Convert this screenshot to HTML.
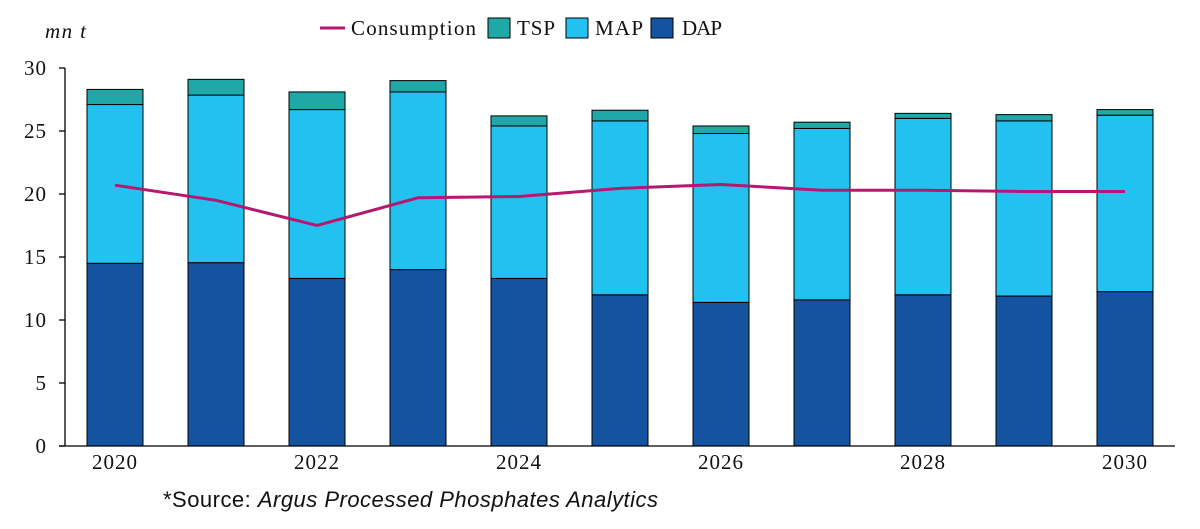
<!DOCTYPE html>
<html><head><meta charset="utf-8"><style>
html,body{margin:0;padding:0;background:#fff;width:1200px;height:529px;overflow:hidden}
svg text{font-family:"Liberation Serif",serif;fill:#111}
</style></head><body>
<svg id="chart" width="1200" height="529" xmlns="http://www.w3.org/2000/svg">
<text x="45" y="38" font-size="21" font-style="italic" textLength="41">mn t</text>
<g>
<line x1="320" y1="28" x2="345" y2="28" stroke="#b5186e" stroke-width="3"/>
<text x="351" y="35" font-size="21" textLength="125">Consumption</text>
<rect x="488" y="18" width="22" height="20" fill="#1fa8a7" stroke="#000" stroke-width="1"/>
<text x="517" y="35" font-size="21" textLength="38">TSP</text>
<rect x="566" y="18" width="22" height="20" fill="#22c1f0" stroke="#000" stroke-width="1"/>
<text x="595" y="35" font-size="21" textLength="48">MAP</text>
<rect x="651" y="18" width="22" height="20" fill="#1453a0" stroke="#000" stroke-width="1"/>
<text x="682" y="35" font-size="21" textLength="40">DAP</text>
</g>
<g id="plot"></g>
<text x="163" y="507" font-size="22" textLength="495" style="font-family:'Liberation Sans',sans-serif">*Source: <tspan font-style="italic">Argus Processed Phosphates Analytics</tspan></text>
</svg>
<script>
const years=[2020,2021,2022,2023,2024,2025,2026,2027,2028,2029,2030];
const dap=[14.5,14.55,13.3,14.0,13.3,12.0,11.4,11.6,12.0,11.9,12.25];
const map=[12.6,13.3,13.4,14.1,12.1,13.8,13.4,13.6,14.0,13.9,14.0];
const tsp=[1.2,1.25,1.4,0.9,0.8,0.85,0.6,0.5,0.4,0.5,0.45];
const consumption=[20.7,19.5,17.5,19.7,19.8,20.45,20.75,20.3,20.3,20.2,20.2];
const yTicks=[0,5,10,15,20,25,30];
const xLabels=[2020,2022,2024,2026,2028,2030];
const NS="http://www.w3.org/2000/svg";
const g=document.getElementById('plot');
const y0=446,y1=68,vmax=30,xl=65,xr=1175;
const yS=v=>y0-(y0-y1)*v/vmax;
const step=101,bw=56;
const xS=yr=>115+(yr-2020)*step;
function mk(t,a){const e=document.createElementNS(NS,t);for(const k in a)e.setAttribute(k,a[k]);g.appendChild(e);return e;}
const cols=['#1453a0','#22c1f0','#1fa8a7'];const names=['dap','map','tsp'];
years.forEach((yr,i)=>{let base=0;[dap[i],map[i],tsp[i]].forEach((v,j)=>{
 const r=mk('rect',{x:xS(yr)-bw/2,y:yS(base+v),width:bw,height:yS(base)-yS(base+v),fill:cols[j],stroke:'#000','stroke-width':1});
 
 
 base+=v;});});
const ax=mk('path',{d:`M${xl} ${y1}V${y0}M${xl-6} ${y0}H${xr}`,stroke:'#000','stroke-width':1.3,fill:'none'});


yTicks.forEach(v=>{
 const t=mk('line',{x1:xl-6,x2:xl,y1:yS(v),y2:yS(v),stroke:'#000','stroke-width':1.3});
 
 
 const l=mk('text',{x:47,y:yS(v)+7,'font-size':21,'text-anchor':'end','letter-spacing':1});l.textContent=v;
 
 });
xLabels.forEach(yr=>{const l=mk('text',{x:xS(yr),y:469,'font-size':21,'text-anchor':'middle','letter-spacing':1});l.textContent=yr;
 
 });
const pl=mk('polyline',{points:years.map((yr,i)=>xS(yr)+','+yS(consumption[i])).join(' '),fill:'none',stroke:'#b5186e','stroke-width':3});


</script>
</body></html>
